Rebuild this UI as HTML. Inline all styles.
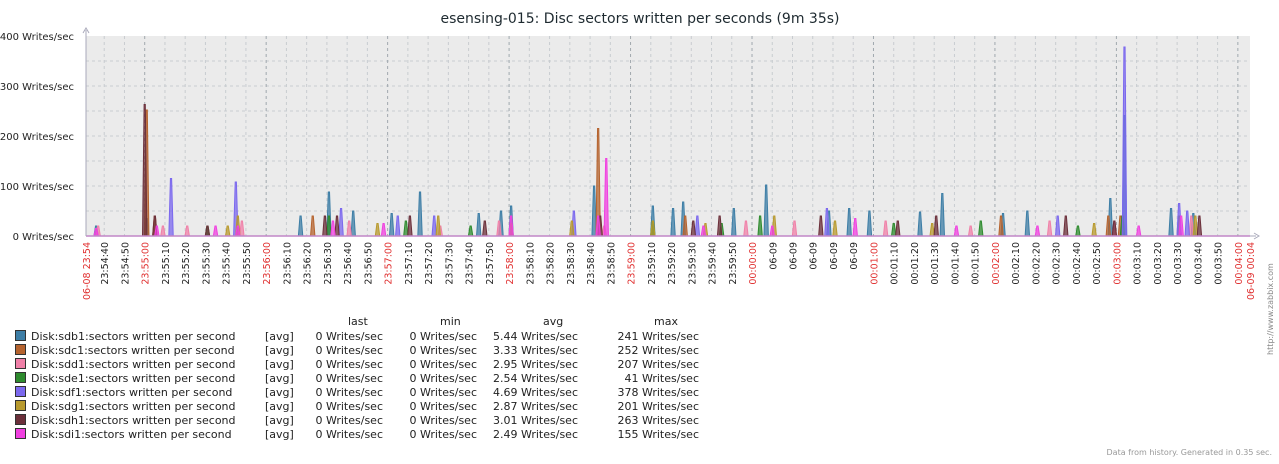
<!DOCTYPE html>
<html><head><meta charset="utf-8">
<style>
body{margin:0;background:#fff;width:1279px;height:460px;overflow:hidden;font-family:"DejaVu Sans","Liberation Sans",sans-serif;}
svg text{font-family:"DejaVu Sans","Liberation Sans",sans-serif;}
</style></head>
<body>
<svg id="chart" width="1279" height="460" xmlns="http://www.w3.org/2000/svg">
<text x="640" y="23" text-anchor="middle" font-size="14" fill="#1e2a30">esensing-015: Disc sectors written per seconds (9m 35s)</text>
<rect x="86" y="36" width="1164" height="200" fill="#ebebeb"/>
<g id="grid"></g><g id="series"></g><g id="axes"></g><g id="legend"></g>
<text transform="translate(1273,355) rotate(-90)" font-size="8" fill="#888">http://www.zabbix.com</text>
<text x="1272" y="455" text-anchor="end" font-size="8" fill="#999">Data from history. Generated in 0.35 sec.</text>
</svg>
<script>
// data
const yTicks=[0,100,200,300,400];
const startSec=23*3600+54*60+31, spanSec=575;
const seriesNames=["Disk:sdb1:sectors written per second","Disk:sdc1:sectors written per second","Disk:sdd1:sectors written per second","Disk:sde1:sectors written per second","Disk:sdf1:sectors written per second","Disk:sdg1:sectors written per second","Disk:sdh1:sectors written per second","Disk:sdi1:sectors written per second"];
const seriesColors=["#3d7ea6","#b5632e","#f080a8","#2e8b2e","#7b68ee","#b89a2e","#6b2f3a","#f040e0"];
const lastVals=["0 Writes/sec","0 Writes/sec","0 Writes/sec","0 Writes/sec","0 Writes/sec","0 Writes/sec","0 Writes/sec","0 Writes/sec"];
const minVals=lastVals;
const avgVals=["5.44 Writes/sec","3.33 Writes/sec","2.95 Writes/sec","2.54 Writes/sec","4.69 Writes/sec","2.87 Writes/sec","3.01 Writes/sec","2.49 Writes/sec"];
const maxVals=["241 Writes/sec","252 Writes/sec","207 Writes/sec","41 Writes/sec","378 Writes/sec","201 Writes/sec","263 Writes/sec","155 Writes/sec"];
// spike times (s from start) and values
const sdbT=[5,30,106,120,132,151,165,194,205,210,251,280,290,295,320,336,367,377,387,412,423,453,465,506,513,536,547];
const sdbV=[20,35,40,88,50,45,88,45,50,60,100,60,55,68,55,102,50,55,50,48,85,45,50,75,241,55,45];
const sdcT=[30,34,112,253,296,452,505,511,540];
const sdcV=[252,40,40,215,40,40,40,40,40];
const sddT=[6,38,50,77,130,175,204,256,326,350,395,437,476,508,546];
const sddV=[20,20,20,30,30,20,30,20,30,30,30,20,30,30,40];
const sdeT=[60,120,158,190,280,314,333,399,442,490,512];
const sdeV=[20,40,30,20,30,25,40,25,30,20,40];
const sdfT=[42,74,126,154,172,241,302,366,480,513,540,544];
const sdfV=[115,108,55,40,40,50,40,55,40,378,65,50];
const sdgT=[70,75,144,174,210,240,280,306,340,370,418,498,548];
const sdgV=[20,40,25,40,25,30,30,25,40,30,25,25,40];
const sdhT=[29,34,60,118,124,160,197,254,300,313,363,401,420,484,508,550];
const sdhV=[263,40,20,40,40,40,30,40,30,40,40,30,40,40,30,40];
const sdiT=[5,35,64,75,122,147,210,253,257,305,339,380,430,470,520,541];
const sdiV=[15,20,20,20,30,25,40,40,155,20,20,35,20,20,20,40];
const allT=[sdbT,sdcT,sddT,sdeT,sdfT,sdgT,sdhT,sdiT];
const allV=[sdbV,sdcV,sddV,sdeV,sdfV,sdgV,sdhV,sdiV];

const NS="http://www.w3.org/2000/svg";
const X0=86,W=1164,Y0=236,H=200;
const xS=t=>X0+t/spanSec*W;
const yS=v=>Y0-v/400*H;
function mk(tag,attrs,parent,txt){const e=document.createElementNS(NS,tag);for(const k in attrs)e.setAttribute(k,attrs[k]);if(txt!==undefined)e.textContent=txt;parent.appendChild(e);return e;}
const grid=document.getElementById('grid'),axes=document.getElementById('axes'),ser=document.getElementById('series'),leg=document.getElementById('legend');
for(let v=50;v<400;v+=50){const l=mk('line',{x1:X0,x2:X0+W,y1:yS(v),y2:yS(v),stroke:'#c8ccd0','stroke-dasharray':'3,3'},grid);

}
const pad=n=>String(n).padStart(2,'0');
for(let s=Math.ceil(startSec/10)*10;s<=startSec+spanSec;s+=10){
 const x=xS(s-startSec);const d=s%86400;const hh=Math.floor(d/3600),mm=Math.floor(d%3600/60),ss=d%60;
 const isMin=ss===0;
 const l=mk('line',{x1:x,x2:x,y1:36,y2:236,stroke:isMin?'#a0a8ae':'#c8ccd0','stroke-dasharray':'3,3'},grid);
 
 
 let label=pad(hh)+':'+pad(mm)+':'+pad(ss);
 if(hh===0&&mm===0&&ss>0) label='06-09';
 const t=mk('text',{transform:`translate(${x+4},242) rotate(-90)`,'text-anchor':'end','font-size':'9.5',fill:isMin?'#e03030':'#222'},axes,label);
 
 
}
[["06-08 23:54",X0],["06-09 00:04",X0+W]].forEach(([s,x])=>{const t=mk('text',{transform:`translate(${x+4},242) rotate(-90)`,'text-anchor':'end','font-size':'9.5',fill:'#e03030'},axes,s);

});
yTicks.forEach(v=>{const t=mk('text',{x:74,y:yS(v)+4,'text-anchor':'end','font-size':'10',fill:'#222'},axes,v+' Writes/sec');

});
mk('line',{x1:X0,x2:X0,y1:30,y2:236,stroke:'#aab'},axes);
mk('line',{x1:X0,x2:X0+W+6,y1:236,y2:236,stroke:'#aab'},axes);
mk('path',{d:`M${X0-3},33 L${X0},28 L${X0+3},33`,fill:'none',stroke:'#aab'},axes);
mk('path',{d:`M${X0+W+4},233 L${X0+W+9},236 L${X0+W+4},239`,fill:'none',stroke:'#aab'},axes);
allT.forEach((ts,i)=>{const vs=allV[i];ts.forEach((t,j)=>{
 const x=xS(t),y=yS(vs[j]),hw=2.2;
 const p=mk('path',{d:`M${x-hw},${Y0} L${x-0.6},${y} L${x+0.6},${y} L${x+hw},${Y0}Z`,fill:seriesColors[i],'fill-opacity':'0.75',stroke:seriesColors[i],'stroke-width':'1'},ser);
 
 
});});
mk('line',{x1:X0,x2:X0+W,y1:Y0,y2:Y0,stroke:'#f040e0','stroke-width':'1.5'},ser);
[["last",348],["min",440],["avg",543],["max",654]].forEach(([h,x])=>{const t=mk('text',{x:x,y:325,'font-size':'11',fill:'#222'},leg,h);

});
seriesNames.forEach((n,i)=>{const y=340+i*14;
 const r=mk('rect',{x:15.5,y:y-9.5,width:10,height:10,fill:seriesColors[i],stroke:'#333'},leg);
 
 
 const cells=[[n,31,'start'],['[avg]',265,'start'],[lastVals[i],383,'end'],[minVals[i],477,'end'],[avgVals[i],578,'end'],[maxVals[i],699,'end']];
 cells.forEach(([s,x,a])=>{const t=mk('text',{x:x,y:y,'text-anchor':a,'font-size':'11',fill:'#222'},leg,s);
 
 });
});
</script>
</body></html>
